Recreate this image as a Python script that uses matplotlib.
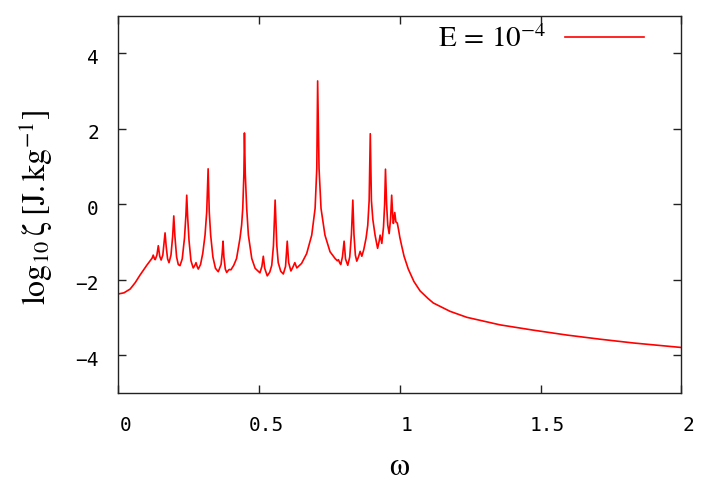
import matplotlib
matplotlib.use("Agg")
import matplotlib.pyplot as plt
import matplotlib.transforms as mtransforms

# curve (omega, log10 zeta)
omega = [0.000, 0.020, 0.042, 0.060, 0.077, 0.090, 0.101, 0.113, 0.120, 0.124,
         0.128, 0.131, 0.137, 0.142, 0.147, 0.152, 0.158, 0.162, 0.166, 0.170,
         0.175, 0.180, 0.187, 0.193, 0.197, 0.201, 0.207, 0.213, 0.219, 0.227,
         0.235, 0.240, 0.243, 0.246, 0.251, 0.258, 0.266, 0.272, 0.276, 0.280,
         0.284, 0.292, 0.300, 0.308, 0.314, 0.319, 0.323, 0.328, 0.336, 0.345,
         0.355, 0.365, 0.369, 0.372, 0.375, 0.380, 0.385, 0.390, 0.394, 0.400,
         0.410, 0.420, 0.432, 0.438, 0.442, 0.446, 0.448, 0.451, 0.456, 0.462,
         0.474, 0.486, 0.503, 0.510, 0.515, 0.520, 0.529, 0.538, 0.545, 0.551,
         0.554, 0.557, 0.560, 0.563, 0.568, 0.577, 0.586, 0.594, 0.600, 0.605,
         0.613, 0.620, 0.627, 0.634, 0.651, 0.669, 0.687, 0.699, 0.705, 0.708,
         0.713, 0.720, 0.734, 0.752, 0.770, 0.778, 0.782, 0.786, 0.790, 0.796,
         0.802, 0.807, 0.815, 0.822, 0.828, 0.833, 0.837, 0.842, 0.847, 0.853,
         0.859, 0.865, 0.872, 0.880, 0.886, 0.891, 0.895, 0.899, 0.904, 0.912,
         0.921, 0.926, 0.930, 0.936, 0.942, 0.946, 0.949, 0.953, 0.957, 0.962,
         0.967, 0.971, 0.975, 0.977, 0.982, 0.986, 0.991, 0.996, 1.000, 1.007,
         1.015, 1.030, 1.050, 1.072, 1.100, 1.119, 1.178, 1.238, 1.356, 1.474,
         1.593, 1.711, 1.829, 2.000]
log_zeta = [-2.38, -2.35, -2.25, -2.08, -1.88, -1.74, -1.62, -1.50, -1.43, -1.35,
            -1.44, -1.47, -1.35, -1.10, -1.38, -1.48, -1.35, -1.05, -0.76, -1.12,
            -1.45, -1.55, -1.35, -0.85, -0.31, -0.85, -1.40, -1.60, -1.63, -1.45,
            -0.90, -0.30, 0.24, -0.30, -0.95, -1.50, -1.69, -1.62, -1.55, -1.65,
            -1.72, -1.60, -1.30, -0.82, -0.20, 0.94, -0.20, -0.82, -1.40, -1.70,
            -1.79, -1.60, -1.30, -0.98, -1.40, -1.72, -1.81, -1.76, -1.73, -1.74,
            -1.62, -1.44, -0.91, -0.55, -0.11, 0.80, 1.89, 0.80, -0.11, -0.82,
            -1.44, -1.70, -1.82, -1.65, -1.38, -1.70, -1.90, -1.80, -1.62, -1.10,
            -0.50, 0.11, -0.50, -1.10, -1.55, -1.78, -1.85, -1.65, -0.98, -1.55,
            -1.77, -1.67, -1.55, -1.69, -1.57, -1.31, -0.82, -0.11, 0.95, 3.27,
            0.95, -0.11, -0.82, -1.26, -1.44, -1.50, -1.47, -1.55, -1.60, -1.40,
            -0.98, -1.45, -1.62, -1.40, -0.80, 0.11, -0.80, -1.35, -1.51, -1.40,
            -1.25, -1.38, -1.20, -0.90, -0.56, 0.10, 1.87, 0.10, -0.40, -0.82,
            -1.17, -1.00, -0.82, -1.04, -0.60, 0.00, 0.93, 0.00, -0.55, -0.78,
            -0.40, 0.24, -0.35, -0.51, -0.22, -0.47, -0.50, -0.70, -0.88, -1.12,
            -1.38, -1.72, -2.05, -2.30, -2.50, -2.62, -2.84, -3.00, -3.20, -3.34,
            -3.47, -3.58, -3.68, -3.80]

xticks = [0, 0.5, 1, 1.5, 2]
xticklabels = ["0", "0.5", "1", "1.5", "2"]
yticks = [-4, -2, 0, 2, 4]

plt.rcParams["mathtext.fontset"] = "stix"

fig = plt.figure(figsize=(7.06, 4.93), dpi=100)
ax = fig.add_axes([0.1676, 0.2034, 0.7975, 0.7647])

ax.plot(omega, log_zeta, color="#ff0000", lw=1.2, label=r"$\mathrm{E}\,=\,10^{-4}$")

ax.set_xlim(0, 2)
ax.set_ylim(-5, 5)
ax.set_xticks(xticks)
ax.set_xticklabels(xticklabels)
ax.set_yticks(yticks)

for s in ax.spines.values():
    s.set_linewidth(1.0)
    s.set_color("#222222")
ax.tick_params(direction="in", length=6, width=1, color="#222222",
               top=True, right=True, labelsize=14)
ax.tick_params(axis="x", pad=17)
ax.tick_params(axis="y", pad=14)
for lab in ax.get_xticklabels() + ax.get_yticklabels():
    lab.set_fontfamily("DejaVu Sans Mono")

# gnuplot puts the labels a bit off the tick positions
dx = mtransforms.ScaledTranslation(7 / 100, 0, fig.dpi_scale_trans)
for lab in ax.get_xticklabels():
    lab.set_transform(lab.get_transform() + dx)
dy = mtransforms.ScaledTranslation(0, -3 / 100, fig.dpi_scale_trans)
for lab in ax.get_yticklabels():
    lab.set_transform(lab.get_transform() + dy)

ax.set_xlabel(r"$\mathrm{\omega}$", fontsize=23, va="center")
ax.xaxis.set_label_coords(0.5, -0.197)
ax.set_ylabel(r"$\mathrm{log}_{10}\,\mathrm{\zeta}\;[\mathrm{J.kg}^{-1}]$", fontsize=23, va="center")
ax.yaxis.set_label_coords(-0.146, 0.49)

ax.legend(loc="upper right", bbox_to_anchor=(0.934, 0.975), frameon=False,
          markerfirst=False, fontsize=21, handlelength=2.7, handletextpad=0.65,
          borderpad=0, borderaxespad=0)

fig.savefig("out.png", dpi=100)
